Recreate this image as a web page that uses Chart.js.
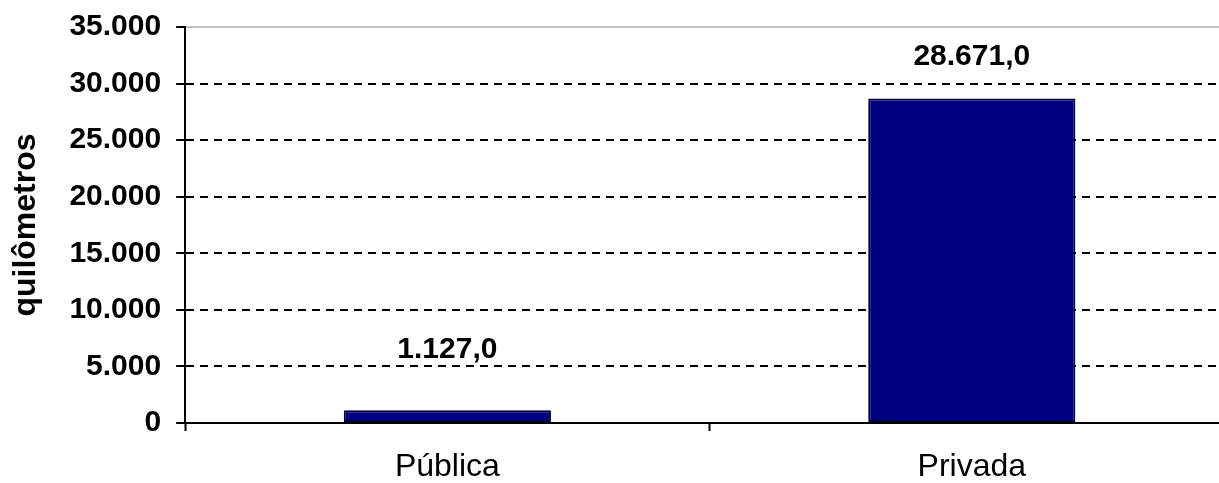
<!DOCTYPE html>
<html>
<head>
<meta charset="utf-8">
<script src="https://cdn.jsdelivr.net/npm/chart.js@4/dist/chart.umd.min.js"></script>
<style>
    html, body { margin: 0; padding: 0; background: #fff; overflow: hidden; }
    #wrap { width: 1250px; height: 483px; }
</style>
</head>
<body>
<div id="wrap"><canvas id="kmChart" width="1250" height="483"></canvas></div>
<script>
// Dados do gráfico
const categories = ['Pública', 'Privada'];
const kmValues = [1127.0, 28671.0];
const yTickLabels = ['0', '5.000', '10.000', '15.000', '20.000', '25.000', '30.000', '35.000'];
const yTitle = 'quilômetros';

// formata 28671 -> "28.671,0"
function formatBR(v) {
    const parts = v.toFixed(1).split('.');
    const intPart = parts[0].replace(/\B(?=(\d{3})+(?!\d))/g, '.');
    return intPart + ',' + parts[1];
}

const FONT = '"Liberation Sans", Arial, sans-serif';

// linha cinza no topo da área do gráfico + rótulos de valor
const extrasPlugin = {
    id: 'extras',
    afterDraw(chart) {
        const ctx = chart.ctx;
        const area = chart.chartArea;
        const y = chart.scales.y;
        const topY = y.getPixelForValue(y.max);
        ctx.save();
        ctx.strokeStyle = '#c0c0c0';
        ctx.lineWidth = 2;
        ctx.beginPath();
        ctx.moveTo(area.left + 1, topY);
        ctx.lineTo(area.right, topY);
        ctx.stroke();

        // rótulos acima das barras (distância em px até o topo da barra)
        const offsets = [46, 27];
        ctx.fillStyle = '#000';
        ctx.font = 'bold 30px ' + FONT;
        ctx.textAlign = 'center';
        ctx.textBaseline = 'bottom';
        chart.getDatasetMeta(0).data.forEach((bar, i) => {
            ctx.fillText(formatBR(kmValues[i]), bar.x, bar.y - offsets[i]);
        });
        ctx.restore();
    }
};

const chart = new Chart(document.getElementById('kmChart').getContext('2d'), {
    type: 'bar',
    data: {
        labels: categories,
        datasets: [{
            data: kmValues,
            backgroundColor: '#000080',
            borderColor: '#00003a',
            borderWidth: 2,
            borderSkipped: false,
            barPercentage: 0.395,
            categoryPercentage: 1.0
        }]
    },
    options: {
        responsive: false,
        animation: false,
        devicePixelRatio: 1,
        layout: {
            padding: { left: 7, right: 16, top: 0, bottom: -20 }
        },
        plugins: {
            legend: { display: false },
            tooltip: { enabled: false }
        },
        scales: {
            x: {
                grid: {
                    offset: true,
                    drawOnChartArea: false,
                    drawTicks: true,
                    tickLength: 8,
                    tickColor: '#000',
                    tickWidth: 2
                },
                border: { display: true, color: '#000', width: 2 },
                ticks: {
                    color: '#000',
                    padding: 20,
                    font: { family: FONT, size: 32, lineHeight: 1 }
                }
            },
            y: {
                min: 0,
                max: 35000,
                grid: {
                    color: function(c) {
                        return (c.tick && c.tick.value === 35000) ? 'rgba(0,0,0,0)' : '#000';
                    },
                    lineWidth: 2,
                    tickLength: 9,
                    tickColor: '#000',
                    tickWidth: 2
                },
                border: { display: true, color: '#000', width: 2, dash: [8, 6] },
                ticks: {
                    stepSize: 5000,
                    color: '#000',
                    padding: 15,
                    font: { family: FONT, size: 30, weight: 'bold', lineHeight: 0.8 },
                    callback: function(value, index) {
                        return yTickLabels[index];
                    }
                },
                title: {
                    display: true,
                    text: yTitle,
                    color: '#000',
                    padding: { top: 0, bottom: 9 },
                    font: { family: FONT, size: 32, weight: 'bold' }
                }
            }
        }
    },
    plugins: [extrasPlugin]
});
</script>
</body>
</html>
